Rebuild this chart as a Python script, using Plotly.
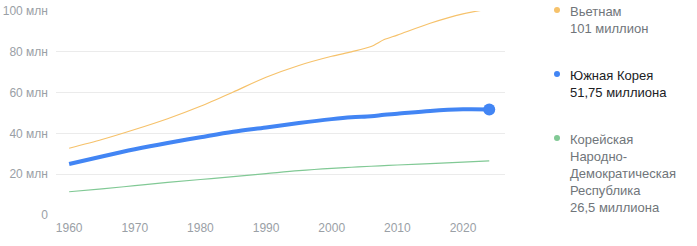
import plotly.graph_objects as go

years = [1960, 1965, 1970, 1975, 1980, 1985, 1990, 1995, 2000, 2003, 2006, 2008, 2010, 2015, 2020, 2024]
vietnam = [32.7, 37.0, 41.9, 47.2, 53.3, 60.3, 67.5, 73.3, 77.8, 80.0, 82.6, 86.0, 88.2, 94.0, 98.6, 101.0]
south_korea = [25.0, 28.7, 32.2, 35.3, 38.1, 40.8, 42.9, 45.1, 47.0, 47.9, 48.4, 49.1, 49.6, 51.0, 51.8, 51.75]
north_korea = [11.4, 12.8, 14.4, 16.0, 17.4, 18.8, 20.3, 21.8, 22.9, 23.4, 23.9, 24.2, 24.5, 25.2, 25.9, 26.5]

y_ticks = [0, 20, 40, 60, 80, 100]
y_tick_labels = ["0", "20 млн", "40 млн", "60 млн", "80 млн", "100 млн"]
x_ticks = [1960, 1970, 1980, 1990, 2000, 2010, 2020]

legend_names = ["Вьетнам", "Южная Корея", "Корейская<br>Народно-<br>Демократическая<br>Республика"]
legend_values = ["101 миллион", "51,75 миллиона", "26,5 миллиона"]

c_vn = "#F6C26B"
c_sk = "#4285F4"
c_nk = "#81C995"

fig = go.Figure()
fig.add_trace(go.Scatter(x=years, y=vietnam, mode="lines", line=dict(color=c_vn, width=1.2, shape="spline", smoothing=0.8), hoverinfo="skip"))
fig.add_trace(go.Scatter(x=years, y=north_korea, mode="lines", line=dict(color=c_nk, width=1.2, shape="spline"), hoverinfo="skip"))
fig.add_trace(go.Scatter(x=years, y=south_korea, mode="lines", line=dict(color=c_sk, width=4, shape="spline"), hoverinfo="skip"))
fig.add_trace(go.Scatter(x=[years[-1]], y=[south_korea[-1]], mode="markers", marker=dict(color=c_sk, size=12), hoverinfo="skip"))

L, R, T, B = 56, 505, 11, 215
W, H = 697, 246

fig.update_layout(
    width=W, height=H,
    margin=dict(l=L, r=W - R, t=T, b=H - B, pad=0),
    paper_bgcolor="white", plot_bgcolor="white",
    showlegend=False,
    font=dict(family="Liberation Sans, Arial, sans-serif", size=12, color="#9AA0A6"),
    xaxis=dict(range=[1958.0, 2026.4], tickvals=x_ticks, showgrid=False, zeroline=False,
               showline=False, ticks="", automargin=False, ticklabelstandoff=4,
               tickfont=dict(size=12, color="#9AA0A6")),
    yaxis=dict(range=[0, 100], tickvals=y_ticks, ticktext=y_tick_labels, showgrid=True,
               gridcolor="#EBEBEB", gridwidth=1, zeroline=False, showline=False, ticks="",
               automargin=False, ticklabelstandoff=7, tickfont=dict(size=12, color="#9AA0A6")),
)

def px_x(p):
    return (p - L) / (R - L)

def px_y(p):
    return (B - p) / (B - T)

colors = [c_vn, c_sk, c_nk]
text_colors = ["#70757A", "#202124", "#70757A"]
tops = [3, 67, 131]
for i in range(3):
    fig.add_shape(type="circle", xref="paper", yref="paper",
                  x0=px_x(554), x1=px_x(560), y0=px_y(tops[i] + 10), y1=px_y(tops[i] + 4),
                  fillcolor=colors[i], line=dict(width=0))
    text = legend_names[i] + "<br>" + legend_values[i]
    fig.add_annotation(xref="paper", yref="paper", x=px_x(568), y=px_y(tops[i] - 1),
                       xanchor="left", yanchor="top", align="left", showarrow=False,
                       text=text, font=dict(size=13, color=text_colors[i],
                                            family="Liberation Sans, Arial, sans-serif"))

fig.write_html("out.html")
